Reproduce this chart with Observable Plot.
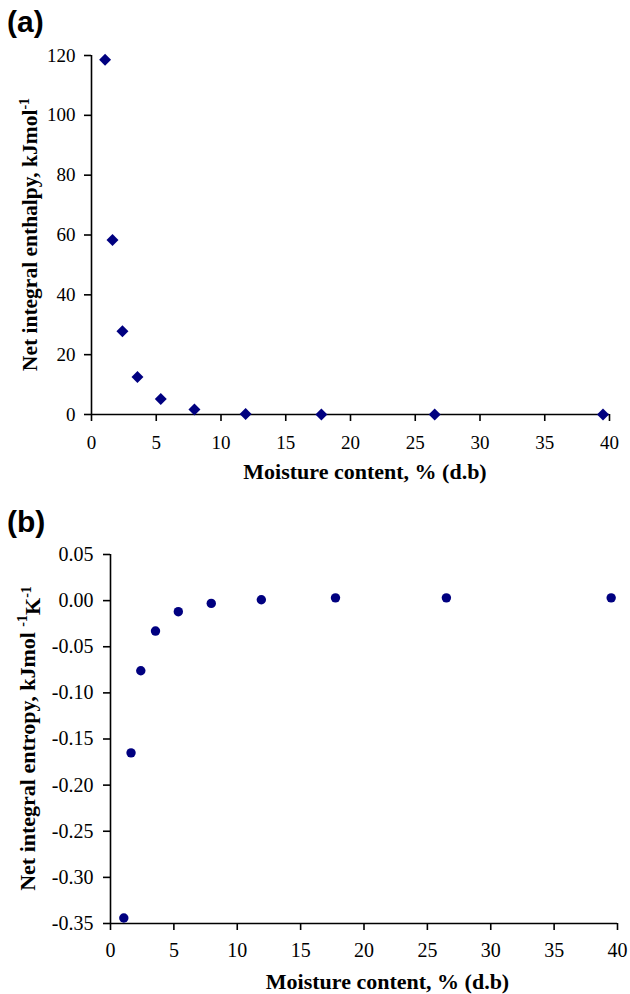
<!DOCTYPE html>
<html>
<head>
<meta charset="utf-8">
<script src="https://cdn.jsdelivr.net/npm/d3@7"></script>
<script src="https://cdn.jsdelivr.net/npm/@observablehq/plot@0.6"></script>
<style>
  html, body { margin: 0; padding: 0; background: #fff; }
  #wrap { width: 630px; height: 994px; position: relative; }
  #wrap svg { display: block; }
</style>
</head>
<body>
<div id="wrap"></div>
<script>
// ---- data ----
const moisture = [1.05, 1.62, 2.39, 3.55, 5.35, 7.95, 11.9, 17.75, 26.5, 39.5];
const enthalpy = [118.6, 58.3, 27.8, 12.5, 5.2, 1.7, 0.2, 0, 0, 0];
const entropy = [-0.344, -0.165, -0.076, -0.033, -0.012, -0.003, 0.001, 0.003, 0.003, 0.003];
const xTicks = [0, 5, 10, 15, 20, 25, 30, 35, 40];
const yTicksA = [0, 20, 40, 60, 80, 100, 120];
const yTicksB = [0.05, 0.00, -0.05, -0.10, -0.15, -0.20, -0.25, -0.30, -0.35];
const xTitle = "Moisture content, % (d.b)";
const panelLabels = ["(a)", "(b)"];

const W = 630;
const serif = '"Liberation Serif","Times New Roman",serif';
const navy = "#000080";

function makePanel(cfg) {
  const data = moisture.map((m, i) => ({x: m, y: cfg.values[i]}));
  const svg = Plot.plot({
    width: W,
    height: cfg.height,
    marginTop: cfg.mT, marginBottom: cfg.mB, marginLeft: cfg.mL, marginRight: cfg.mR,
    style: {fontFamily: serif, fontSize: cfg.tickFont + "px", color: "black", background: "white", overflow: "visible"},
    x: {domain: [0, 40], ticks: xTicks, tickSize: 7, tickPadding: cfg.xPad, tickFormat: d => String(d), label: null},
    y: {domain: cfg.yDomain, ticks: cfg.yTicks, tickSize: 7, tickPadding: cfg.yPad, tickFormat: cfg.yFormat, label: null},
    marks: [
      Plot.ruleX([0], {stroke: "black", strokeWidth: 1.6}),
      Plot.ruleY([cfg.yDomain[0]], {stroke: "black", strokeWidth: 1.6}),
      Plot.dot(data, {x: "x", y: "y", symbol: cfg.symbol, r: cfg.r, fill: navy, stroke: "none"})
    ]
  });
  const s = d3.select(svg);
  s.selectAll('g[aria-label$="tick"]').attr("stroke-width", 1.6);
  // panel letter
  s.append("text").attr("x", 7).attr("y", cfg.letterY).attr("text-anchor", "start")
    .attr("font-family", '"Liberation Sans",Arial,sans-serif').attr("font-weight", "bold")
    .attr("font-size", 30).attr("fill", "black").text(cfg.letter);
  // x title
  const cx = cfg.mL + (W - cfg.mL - cfg.mR) / 2 + cfg.xTitleDx;
  s.append("text").attr("x", cx).attr("y", cfg.xTitleY)
    .attr("text-anchor", "middle").attr("font-family", serif).attr("font-weight", "bold")
    .attr("font-size", 22).attr("fill", "black").text(xTitle);
  // y title
  const cy = cfg.mT + (cfg.height - cfg.mT - cfg.mB) / 2 + cfg.yTitleDy;
  const t = s.append("text").attr("transform", `translate(${cfg.yTitleX},${cy}) rotate(-90)`)
    .attr("text-anchor", "middle").attr("font-family", serif).attr("font-weight", "bold")
    .attr("font-size", cfg.yTitleFont).attr("fill", "black");
  cfg.yTitle.forEach(p => {
    const ts = t.append("tspan").text(p.text);
    if (p.dy) ts.attr("dy", p.dy);
    if (p.size) ts.attr("font-size", p.size);
  });
  return svg;
}

const wrap = document.getElementById("wrap");
wrap.appendChild(makePanel({
  values: enthalpy, height: 497, mT: 55, mB: 83, mL: 91, mR: 21, tickFont: 19,
  yDomain: [0, 120], yTicks: yTicksA, yFormat: d => String(d), xPad: 14, yPad: 9,
  symbol: "diamond2", r: 5.4, letter: panelLabels[0], letterY: 32,
  xTitleDx: 15, xTitleY: 479, yTitleX: 37, yTitleFont: 21.5, yTitleDy: 0,
  yTitle: [{text: "Net integral enthalpy, kJmol"}, {text: "-1", dy: "-0.6em", size: 14}]
}));
wrap.appendChild(makePanel({
  values: entropy, height: 497, mT: 57, mB: 71, mL: 110, mR: 13, tickFont: 20,
  yDomain: [-0.35, 0.05], yTicks: yTicksB, yFormat: d => d.toFixed(2), xPad: 12, yPad: 10,
  symbol: "circle", r: 4.7, letter: panelLabels[1], letterY: 35,
  xTitleDx: 24, xTitleY: 492, yTitleX: 35, yTitleFont: 22, yTitleDy: 0,
  yTitle: [{text: "Net integral entropy, kJmol "}, {text: "-1", dy: "-0.6em", size: 14},
           {text: "K", dy: "0.6em"}, {text: "-1", dy: "-0.6em", size: 14}]
}));
</script>
</body>
</html>
